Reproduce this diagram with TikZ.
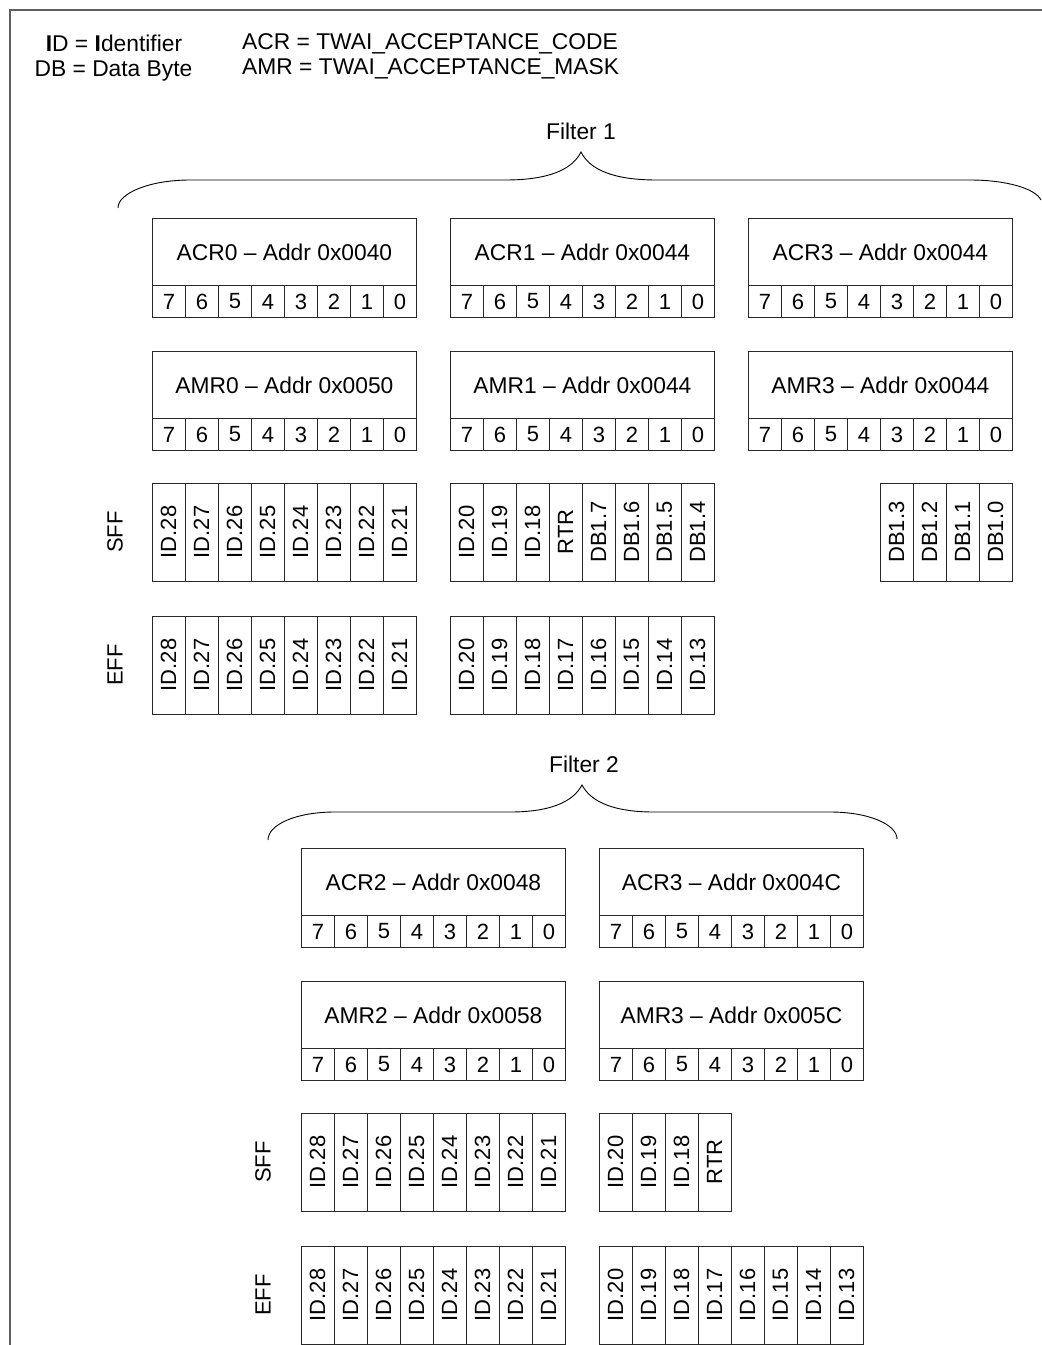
\documentclass[tikz,border=0pt]{standalone}
\usepackage{fontspec}
\setmainfont{Liberation Sans}
\usepackage{tikz}
\usetikzlibrary{positioning}
\definecolor{framegray}{RGB}{96,96,96}
\definecolor{cellline}{RGB}{40,40,40}
\tikzset{
  regtext/.style={font=\fontsize{22}{25}\selectfont},
  bigtext/.style={font=\fontsize{22.8}{25}\selectfont},
  regtitle/.style={bigtext,draw=cellline,line width=0.9pt,minimum width=264pt,minimum height=67pt,inner sep=0pt,anchor=north west},
  bitcell/.style={regtext,draw=cellline,line width=0.9pt,minimum width=33pt,minimum height=32pt,inner sep=0pt,anchor=north west},
  fieldcell/.style={regtext,draw=cellline,line width=0.9pt,rotate=90,minimum width=98pt,minimum height=33pt,inner sep=0pt},
  framelabel/.style={regtext,rotate=90},
  legendtext/.style={bigtext,inner sep=0pt},
  bracepath/.style={line width=0.9pt}
}
\newcommand{\regbox}[4]{%
  \node[regtitle] (#1) at (#2,-#3) {#4};%
  \foreach \rB [count=\rI from 0] in {7,...,0}{%
    \node[bitcell] (#1-\rB) at (#2+33*\rI,-#3-67) {\rB};%
  }%
}
\newcommand{\fieldrow}[4]{%
  \foreach \fF [count=\fI from 0] in {#4}{%
    \node[fieldcell] (#1-\fI) at (#2+33*\fI+16.5,-#3-49) {\fF};%
  }%
}

\begin{document}
\begin{tikzpicture}[x=1pt,y=1pt]
  \useasboundingbox (0,0) rectangle (1042,-1345);
  \draw[framegray,line width=1.2pt] (1042,-10) -- (10,-10) -- (10,-1345);
  \node[legendtext,anchor=base] (legendid) at (114,-51) {\textbf{I}D = \textbf{I}dentifier};
  \node[legendtext,anchor=base] (legenddb) at (113.5,-76) {DB = Data Byte};
  \node[legendtext,anchor=base west] (legendacr) at (242,-49) {ACR = TWAI\_ACCEPTANCE\_CODE};
  \node[legendtext,anchor=base west] (legendamr) at (242,-74) {AMR = TWAI\_ACCEPTANCE\_MASK};
  % filter 1
  \node[bigtext] (filterone) at (581,-131) {Filter 1};
  \draw[bracepath] (118,-208) .. controls (118,-193) and (150,-180) .. (190,-180) -- (505,-180)
    .. controls (548,-180) and (572,-170) .. (581,-152)
    .. controls (590,-170) and (614,-180) .. (657,-180) -- (970,-180)
    .. controls (1005,-180) and (1035,-188) .. (1041,-200);
  \regbox{acrzero}{152}{218}{ACR0 -- Addr 0x0040}
  \regbox{acrone}{450}{218}{ACR1 -- Addr 0x0044}
  \regbox{acrthree}{748}{218}{ACR3 -- Addr 0x0044}
  \regbox{amrzero}{152}{351}{AMR0 -- Addr 0x0050}
  \regbox{amrone}{450}{351}{AMR1 -- Addr 0x0044}
  \regbox{amrthree}{748}{351}{AMR3 -- Addr 0x0044}
  \node[framelabel] (sffone) at (115,-532) {SFF};
  \fieldrow{sffoneA}{152}{483}{ID.28,ID.27,ID.26,ID.25,ID.24,ID.23,ID.22,ID.21}
  \fieldrow{sffoneB}{450}{483}{ID.20,ID.19,ID.18,RTR,DB1.7,DB1.6,DB1.5,DB1.4}
  \fieldrow{sffoneC}{880}{483}{DB1.3,DB1.2,DB1.1,DB1.0}
  \node[framelabel] (effone) at (115,-665) {EFF};
  \fieldrow{effoneA}{152}{616}{ID.28,ID.27,ID.26,ID.25,ID.24,ID.23,ID.22,ID.21}
  \fieldrow{effoneB}{450}{616}{ID.20,ID.19,ID.18,ID.17,ID.16,ID.15,ID.14,ID.13}
  % filter 2
  \node[bigtext] (filtertwo) at (584,-764) {Filter 2};
  \draw[bracepath] (268,-840) .. controls (268,-825) and (295,-812) .. (335,-812) -- (510,-812)
    .. controls (550,-812) and (573,-802) .. (582,-785)
    .. controls (591,-802) and (614,-812) .. (654,-812) -- (830,-812)
    .. controls (870,-812) and (897,-825) .. (897,-839);
  \regbox{acrtwo}{301}{848}{ACR2 -- Addr 0x0048}
  \regbox{acrthreeB}{599}{848}{ACR3 -- Addr 0x004C}
  \regbox{amrtwo}{301}{981}{AMR2 -- Addr 0x0058}
  \regbox{amrthreeB}{599}{981}{AMR3 -- Addr 0x005C}
  \node[framelabel] (sfftwo) at (263,-1162) {SFF};
  \fieldrow{sfftwoA}{301}{1113}{ID.28,ID.27,ID.26,ID.25,ID.24,ID.23,ID.22,ID.21}
  \fieldrow{sfftwoB}{599}{1113}{ID.20,ID.19,ID.18,RTR}
  \node[framelabel] (efftwo) at (263,-1295) {EFF};
  \fieldrow{efftwoA}{301}{1246}{ID.28,ID.27,ID.26,ID.25,ID.24,ID.23,ID.22,ID.21}
  \fieldrow{efftwoB}{599}{1246}{ID.20,ID.19,ID.18,ID.17,ID.16,ID.15,ID.14,ID.13}
\end{tikzpicture}
\end{document}
